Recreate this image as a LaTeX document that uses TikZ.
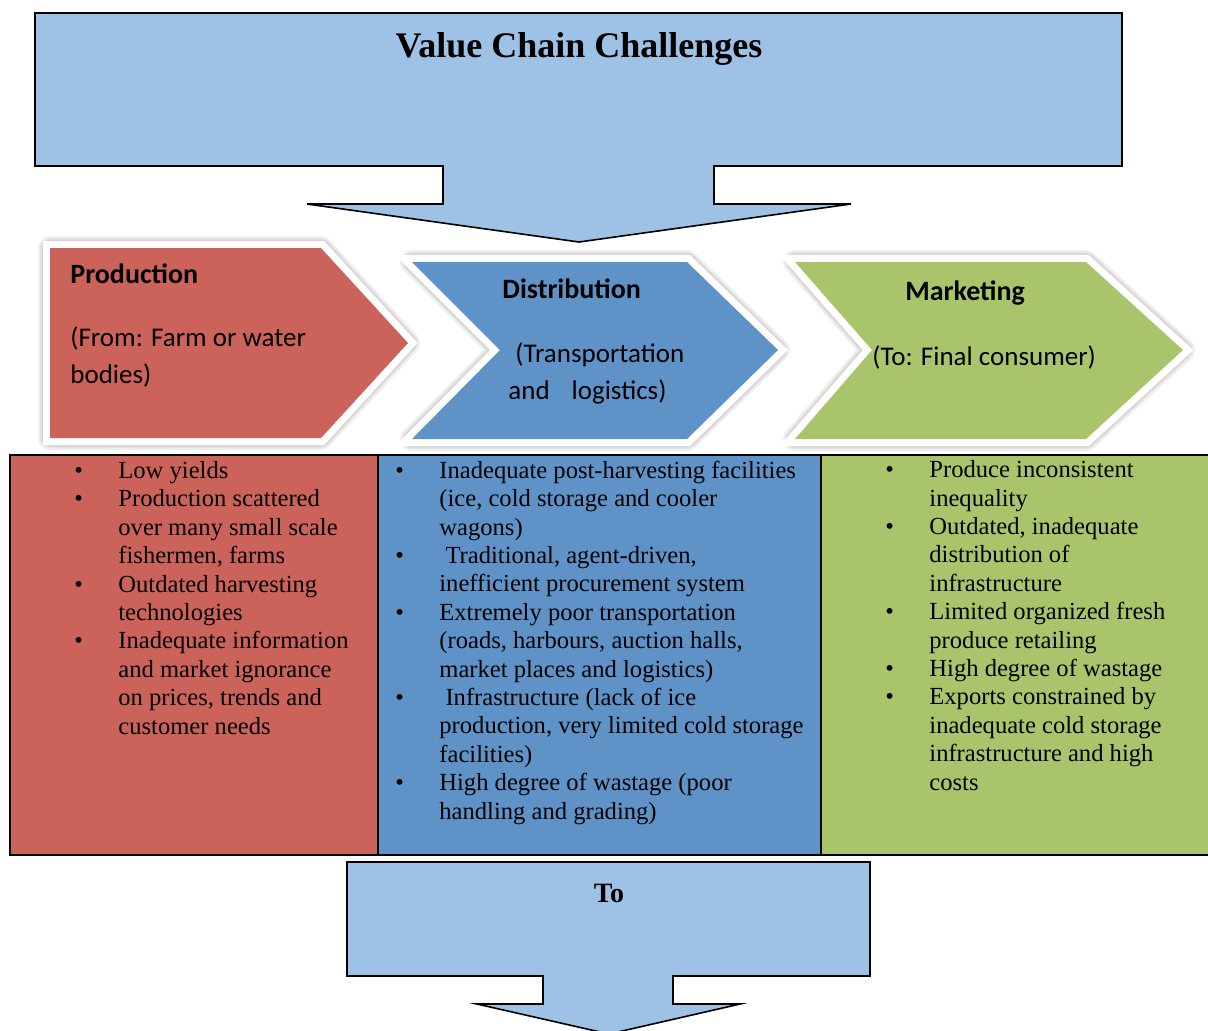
\documentclass[tikz,border=0pt]{standalone}
\usepackage{fontspec}
\setmainfont{Liberation Serif}
\newfontfamily\calibri{Carlito}
\usetikzlibrary{positioning}

\definecolor{prodred}{RGB}{204,99,91}
\definecolor{distblue}{RGB}{95,147,200}
\definecolor{markgreen}{RGB}{170,196,108}
\definecolor{arrowblue}{RGB}{158,194,230}

\tikzset{
  bigarrow/.style={draw=black, fill=arrowblue, line width=0.8pt, line join=miter},
  chevtitle/.style={font=\calibri\bfseries\fontsize{14}{17}\selectfont, inner sep=0pt, anchor=base west},
  chevtext/.style={font=\calibri\fontsize{13.5}{18.5}\selectfont, inner sep=0pt, anchor=base west, align=left},
  cell/.style={draw=black, line width=1.2pt},
  bullets/.style={font=\fontsize{12.3}{14.2}\selectfont, inner sep=0pt, anchor=base west, align=left}
}

\newcommand{\bul}{\makebox[22pt][l]{\textbullet}}
\newcommand{\ind}{\hspace*{22pt}}
% chevron with white rim and a soft halo
\newcommand{\chevshape}[2]{%
  \foreach \w in {12pt,10pt,8.5pt} {\draw[line width=\w, black, opacity=0.06, line join=round] #2;}
  \draw[line width=7pt, white, line join=miter] #2;
  \fill[#1] #2;}

\begin{document}
\begin{tikzpicture}[x=0.5pt,y=-0.5pt]
\useasboundingbox (0,0) rectangle (1208,1030);

% top arrow
\draw[bigarrow] (35,13) -- (1122,13) -- (1122,166) -- (714,166) -- (714,204) -- (851,204)
  -- (579,242) -- (307,204) -- (443,204) -- (443,166) -- (35,166) -- cycle;
\node[font=\bfseries\fontsize{18}{22}\selectfont, anchor=base] (title) at (579,57) {Value Chain Challenges};

% chevrons
\chevshape{prodred}{(50,248) -- (321,248) -- (408,343) -- (321,438) -- (50,438) -- cycle}
\chevshape{distblue}{(412,262) -- (687,262) -- (778,350) -- (687,439) -- (412,439) -- (500,350) -- cycle}
\chevshape{markgreen}{(795,262) -- (1086,262) -- (1183,350) -- (1086,439) -- (795,439) -- (872,350) -- cycle}

% two-line texts sit on their last baseline
\node[chevtitle] (prodhead) at (70,283) {Production};
\node[chevtext] (prodsub) at (70,383) {(From: Farm or water\\bodies)};
\node[chevtitle] (disthead) at (502,298) {Distribution};
\node[chevtext] (distsub) at (508,399) {\hspace*{3.5pt}(Transportation\\and\hspace{11pt}logistics)};
\node[chevtitle] (markhead) at (905,300) {Marketing};
\node[chevtext] (marksub) at (872,365) {(To: Final consumer)};

% table
\fill[prodred] (10,455) rectangle (378,855);
\fill[distblue] (378,455) rectangle (821,855);
\fill[markgreen] (821,455) rectangle (1215,855);
\draw[cell] (10,455) rectangle (1215,855);
\draw[cell] (378,455) -- (378,855);
\draw[cell] (821,455) -- (821,855);

\node[bullets] (prodlist) at (74,734) {%
\bul Low yields\\
\bul Production scattered\\
\ind over many small scale\\
\ind fishermen, farms\\
\bul Outdated harvesting\\
\ind technologies\\
\bul Inadequate information\\
\ind and market ignorance\\
\ind on prices, trends and\\
\ind customer needs};

\node[bullets] (distlist) at (395,819) {%
\bul Inadequate post-harvesting facilities\\
\ind (ice, cold storage and cooler\\
\ind wagons)\\
\bul\ Traditional, agent-driven,\\
\ind inefficient procurement system\\
\bul Extremely poor transportation\\
\ind (roads, harbours, auction halls,\\
\ind market places and logistics)\\
\bul\ Infrastructure (lack of ice\\
\ind production, very limited cold storage\\
\ind facilities)\\
\bul High degree of wastage (poor\\
\ind handling and grading)};

\node[bullets] (marklist) at (885,790) {%
\bul Produce inconsistent\\
\ind inequality\\
\bul Outdated, inadequate\\
\ind distribution of\\
\ind infrastructure\\
\bul Limited organized fresh\\
\ind produce retailing\\
\bul High degree of wastage\\
\bul Exports constrained by\\
\ind inadequate cold storage\\
\ind infrastructure and high\\
\ind costs};

% bottom arrow
\draw[bigarrow] (347,862) -- (870,862) -- (870,976) -- (673,976) -- (673,1004) -- (740,1004)
  -- (609,1034) -- (477,1004) -- (543,1004) -- (543,976) -- (347,976) -- cycle;
\node[font=\bfseries\fontsize{14}{17}\selectfont, anchor=base] (to) at (609,902) {To};

\end{tikzpicture}
\end{document}
